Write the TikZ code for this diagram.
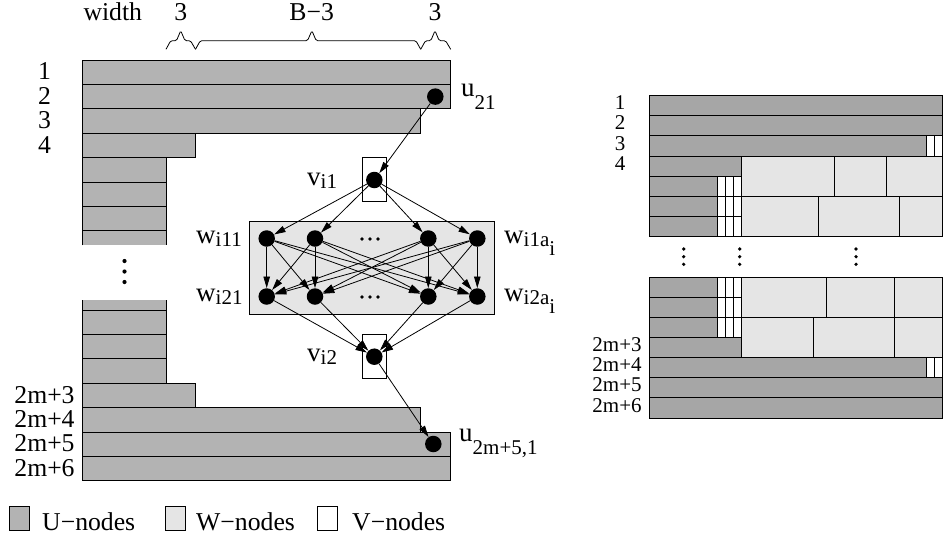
\documentclass[tikz,border=0pt]{standalone}
\usepackage{fontspec}
\setmainfont{Liberation Serif}
\usetikzlibrary{arrows.meta}
\definecolor{ugray}{RGB}{179,179,179}
\definecolor{ugrayr}{RGB}{166,166,166}
\definecolor{wgray}{RGB}{229,229,229}
\newcommand{\lsub}[2]{\raisebox{-#1}{\fontsize{21}{21}\selectfont #2}}
\begin{document}
\begin{tikzpicture}[x=1pt,y=-1pt,
  lbl/.style={font=\fontsize{25.7}{26}\selectfont, inner sep=0pt, anchor=base},
  glbl/.style={font=\fontsize{27}{27}\selectfont, inner sep=0pt, anchor=base west},
  rlbl/.style={font=\fontsize{21}{21}\selectfont, inner sep=0pt, anchor=base},
  ucell/.style={fill=ugray, draw=black, line width=0.9pt},
  rcell/.style={fill=ugrayr, draw=black, line width=0.9pt},
  wcell/.style={fill=wgray, draw=black, line width=0.9pt},
  vcell/.style={fill=white, draw=black, line width=0.9pt},
  bracestyle/.style={draw=black, line width=0.8pt, rounded corners=1.5pt},
  gdot/.style={circle, fill=black, inner sep=0pt, minimum size=16.5pt},
  arr/.style={-{Triangle[length=11.5pt,width=6.5pt]}, line width=0.8pt},
]
\useasboundingbox (0,0) rectangle (943,539);

% ---------------- left diagram: rows ----------------
\draw[ucell] (82.5,60) rectangle (450.7,84.4);
\draw[ucell] (82.5,84.4) rectangle (450.7,108.8);
\draw[ucell] (82.5,108.8) rectangle (420.7,133.2);
\draw[ucell] (82.5,133.2) rectangle (195.5,157.6);
\foreach \y in {157.6,182,206.4} \draw[ucell] (82.5,\y) rectangle (166,{\y+24.4});
\fill[ugray] (82.5,230.8) rectangle (166,245.4);
\draw[line width=0.9pt] (82.5,245.4) -- (82.5,230.8) -- (166,230.8) -- (166,245.4);
\fill[ugray] (82.5,300) rectangle (166,310);
\draw[line width=0.9pt] (82.5,300) -- (82.5,310) -- (166,310) -- (166,300);
\foreach \y in {310,334.4,358.8} \draw[ucell] (82.5,\y) rectangle (166,{\y+24.4});
\draw[ucell] (82.5,383.2) rectangle (195.5,407.6);
\draw[ucell] (82.5,407.6) rectangle (420.7,432);
\draw[ucell] (82.5,432) rectangle (450.7,456.4);
\draw[ucell] (82.5,456.4) rectangle (450.7,480.8);

\foreach \y in {261,271.5,282} \fill (124.5,\y) circle (2.1);

% row labels
\node[lbl] (l1) at (44.5,79.9) {1};
\node[lbl] (l2) at (44.5,104.3) {2};
\node[lbl] (l3) at (44.5,128.7) {3};
\node[lbl] (l4) at (44.5,153.1) {4};
\node[lbl] (l2m3) at (44.5,403.1) {2m+3};
\node[lbl] (l2m4) at (44.5,427.5) {2m+4};
\node[lbl] (l2m5) at (44.5,451.9) {2m+5};
\node[lbl] (l2m6) at (44.5,476.3) {2m+6};

% width labels and braces
\node[lbl, anchor=base west] (wd) at (83.3,20.7) {width};
\node[lbl] (t3a) at (180.7,20.7) {3};
\node[lbl] (tb) at (311.7,20.7) {B−3};
\node[lbl] (t3b) at (435,20.7) {3};
\draw[bracestyle] (166,49.3) -- (170.7,40.7) -- (176.5,40.7) -- (180.7,30.7) -- (185,40.7) -- (190.5,40.7) -- (195.5,49.3);
\draw[bracestyle] (195.5,49.3) -- (200.3,40.7) -- (307.5,40.7) -- (311.9,30.7) -- (316.2,40.7) -- (415.9,40.7) -- (420.7,49.3);
\draw[bracestyle] (420.7,49.3) -- (425.5,40.7) -- (430.8,40.7) -- (435,30.7) -- (439.2,40.7) -- (445.6,40.7) -- (450.7,49.3);

% ---------------- graph ----------------
\draw[wcell] (249.3,221) rectangle (494.3,314.3);
\draw[vcell] (362,157.3) rectangle (386.5,201.7);
\draw[vcell] (362,334.3) rectangle (386.5,378.3);

\node[gdot] (u21) at (435.3,96.6) {};
\node[gdot] (u251) at (433.3,444) {};
\node[gdot] (v1) at (374.3,180) {};
\node[gdot] (v2) at (374.3,356.7) {};
\node[gdot] (a1) at (266.7,238.5) {};
\node[gdot] (a2) at (315,238.5) {};
\node[gdot] (a3) at (428.3,238.5) {};
\node[gdot] (a4) at (477.3,238.5) {};
\node[gdot] (b1) at (266.7,296.5) {};
\node[gdot] (b2) at (315,296.5) {};
\node[gdot] (b3) at (428.3,296.5) {};
\node[gdot] (b4) at (477.3,296.5) {};

\draw[arr] (u21) -- (v1);
\foreach \i in {1,...,4} \draw[arr] (v1) -- (a\i);
\foreach \i in {1,...,4} {\foreach \j in {1,...,4} {\draw[arr] (a\i) -- (b\j);}}
\foreach \j in {1,...,4} \draw[arr] (b\j) -- (v2);
\draw[arr] (v2) -- (u251);

\foreach \x in {362,370,378} {\fill (\x,239) circle (1.8); \fill (\x,297) circle (1.8);}

\node[glbl] (lu21) at (461,96) {u\lsub{13pt}{21}};
\node[glbl] (lu251) at (459,441) {u\lsub{13pt}{2m+5,1}};
\node[glbl] (lv1) at (307,185) {v\lsub{3pt}{i1}};
\node[glbl] (lv2) at (307,361.5) {v\lsub{3pt}{i2}};
\node[glbl] (lw11) at (196,243.5) {w\lsub{3pt}{i11}};
\node[glbl] (lw21) at (196,301.5) {w\lsub{3pt}{i21}};
\node[glbl] (lw1a) at (504,243.5) {w\lsub{3pt}{i1a\lsub{9pt}{i}}};
\node[glbl] (lw2a) at (504,301.5) {w\lsub{3pt}{i2a\lsub{9pt}{i}}};

% ---------------- legend ----------------
\draw[ucell] (9,506) rectangle (29,530);
\node[lbl, anchor=base west] (lgu) at (42,530) {U−nodes};
\draw[wcell] (165.7,506) rectangle (185.7,530);
\node[lbl, anchor=base west] (lgw) at (196,530) {W−nodes};
\draw[vcell] (317.7,506) rectangle (337.7,530);
\node[lbl, anchor=base west] (lgv) at (352,530) {V−nodes};

% ---------------- right diagram ----------------
\draw[rcell] (649,95.7) rectangle (942.5,115.8);
\draw[rcell] (649,115.8) rectangle (942.5,135.9);
\draw[rcell] (649,135.9) rectangle (926.7,156);
\draw[vcell] (926.7,135.9) rectangle (934.7,156);
\draw[vcell] (934.7,135.9) rectangle (942.5,156);
\draw[rcell] (649,156) rectangle (741.7,176.1);
\foreach \y in {176.1,196.2,216.3,277.3,297.4,317.5} {
  \draw[rcell] (649,\y) rectangle (717.3,{\y+20.1});
  \draw[vcell] (717.3,\y) rectangle (725.5,{\y+20.1});
  \draw[vcell] (725.5,\y) rectangle (733.6,{\y+20.1});
  \draw[vcell] (733.6,\y) rectangle (741.7,{\y+20.1});
}
\draw[wcell] (741.7,156) rectangle (834.3,196.2);
\draw[wcell] (834.3,156) rectangle (886.7,196.2);
\draw[wcell] (886.7,156) rectangle (942.5,196.2);
\draw[wcell] (741.7,196.2) rectangle (818,236.4);
\draw[wcell] (818,196.2) rectangle (899,236.4);
\draw[wcell] (899,196.2) rectangle (942.5,236.4);

\draw[wcell] (741.7,277.3) rectangle (826,317.5);
\draw[wcell] (826,277.3) rectangle (894.3,317.5);
\draw[wcell] (894.3,277.3) rectangle (942.5,317.5);
\draw[wcell] (741.7,317.5) rectangle (813.7,357.7);
\draw[wcell] (813.7,317.5) rectangle (894.3,357.7);
\draw[wcell] (894.3,317.5) rectangle (942.5,357.7);
\draw[rcell] (649,337.6) rectangle (741.7,357.7);
\draw[rcell] (649,357.7) rectangle (926.7,377.8);
\draw[vcell] (926.7,357.7) rectangle (934.7,377.8);
\draw[vcell] (934.7,357.7) rectangle (942.5,377.8);
\draw[rcell] (649,377.8) rectangle (942.5,397.9);
\draw[rcell] (649,397.9) rectangle (942.5,418);

\foreach \x in {683.7,739.7,856} {\foreach \y in {249,256.7,264.3} {\fill (\x,\y) circle (1.8);}}

\node[rlbl] (r1) at (620,109.8) {1};
\node[rlbl] (r2) at (620,129.9) {2};
\node[rlbl] (r3) at (620,150) {3};
\node[rlbl] (r4) at (620,170.1) {4};
\node[rlbl] (r2m3) at (617,351.7) {2m+3};
\node[rlbl] (r2m4) at (617,371.8) {2m+4};
\node[rlbl] (r2m5) at (617,391.9) {2m+5};
\node[rlbl] (r2m6) at (617,412) {2m+6};
\end{tikzpicture}
\end{document}
